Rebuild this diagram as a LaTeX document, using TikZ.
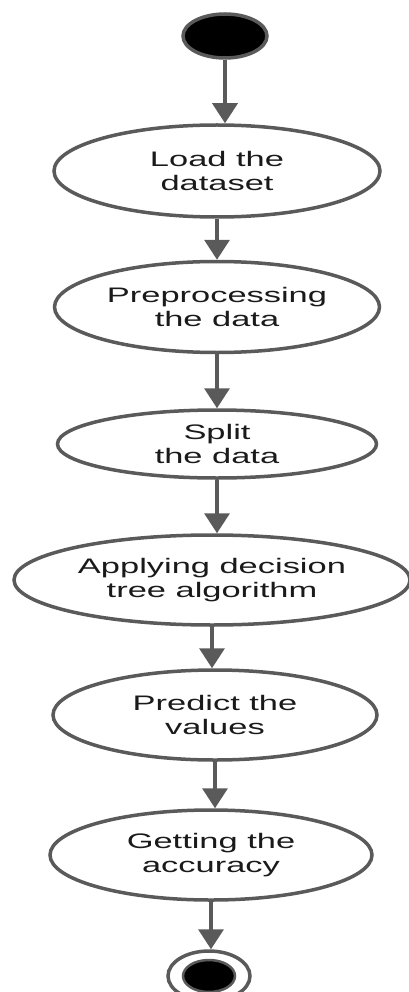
\documentclass[tikz,border=0pt]{standalone}
\usepackage{fontspec}
\setmainfont{Liberation Sans}
\usetikzlibrary{shapes.geometric,arrows.meta}
\definecolor{lc}{HTML}{5A5A5A}
\definecolor{tc}{HTML}{1A1A1A}
\newcommand{\sx}[1]{\scalebox{1.64}[1]{#1}}
\begin{document}
\begin{tikzpicture}[x=1pt,y=-1pt,
  act/.style={ellipse, draw=lc, line width=3.5pt, fill=white, inner sep=0pt, text=tc,
              font=\fontsize{21}{24}\selectfont, align=center},
  arr/.style={draw=lc, line width=3.5pt, -{Triangle[width=25pt,length=20pt]}}]
\useasboundingbox (0,0) rectangle (409,992);
\clip (0,0) rectangle (409,992);
\node[ellipse, draw=lc, fill=black, line width=3.5pt, minimum width=84pt, minimum height=44pt, inner sep=0pt] (start) at (225,36) {};
\node[act, minimum width=326pt, minimum height=92pt] (n1) at (217,171) {\sx{Load the}\\\sx{dataset}};
\node[act, minimum width=325pt, minimum height=91pt] (n2) at (217,307) {\sx{Preprocessing}\\\sx{the data}};
\node[act, minimum width=319pt, minimum height=68pt] (n3) at (217,444) {\sx{Split}\\\sx{the data}};
\node[act, minimum width=396pt, minimum height=90pt] (n4) at (212,580) {\sx{Applying decision}\\\sx{tree algorithm}};
\node[act, minimum width=324pt, minimum height=90pt] (n5) at (215,715) {\sx{Predict the}\\\sx{values}};
\node[act, minimum width=322pt, minimum height=90pt] (n6) at (211,855) {\sx{Getting the}\\\sx{accuracy}};
\node[ellipse, draw=lc, fill=white, line width=3.5pt, minimum width=82pt, minimum height=50pt, inner sep=0pt] (endo) at (209,976) {};
\node[ellipse, draw=lc, fill=black, line width=2.5pt, minimum width=52pt, minimum height=32pt, inner sep=0pt] (endi) at (endo) {};
\draw[arr] (start.south) -- (start.south |- n1.north);
\draw[arr] (n1.south) -- (n1.south |- n2.north);
\draw[arr] (n2.south) -- (n2.south |- n3.north);
\draw[arr] (n3.south) -- (n3.south |- n4.north);
\draw[arr] (n4.south) -- (n4.south |- n5.north);
\draw[arr] (n5.south) -- (n5.south |- n6.north);
\draw[arr] (n6.south) -- (n6.south |- endo.north);
\end{tikzpicture}
\end{document}
